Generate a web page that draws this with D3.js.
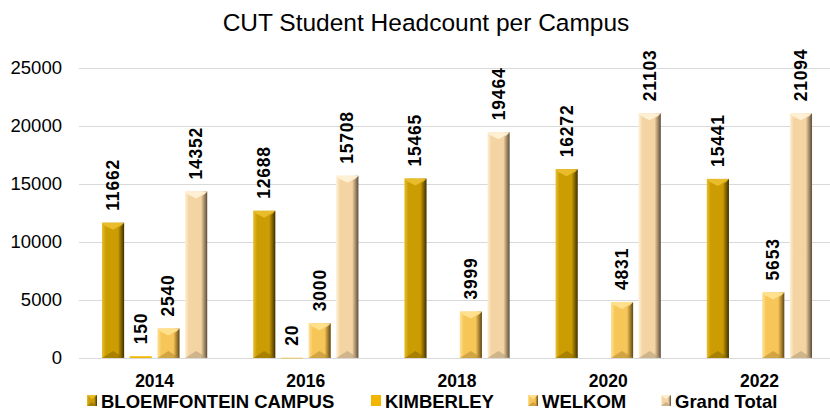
<!DOCTYPE html>
<html><head><meta charset="utf-8">
<script src="https://cdn.jsdelivr.net/npm/d3@7"></script>
<style>body{margin:0;background:#fff}svg{display:block;font-family:"Liberation Sans",Arial,sans-serif}</style>
</head><body><svg id="c" width="830" height="410"></svg>
<script>
const years = ["2014","2016","2018","2020","2022"];
const seriesNames = ["BLOEMFONTEIN CAMPUS","KIMBERLEY","WELKOM","Grand Total"];
const bloemfontein = [11662,12688,15465,16272,15441];
const kimberley = [150,20,null,null,null];
const welkom = [2540,3000,3999,4831,5653];
const grandTotal = [14352,15708,19464,21103,21094];
const yTicks = [0,5000,10000,15000,20000,25000];

const seriesVals = [bloemfontein,kimberley,welkom,grandTotal];
const pal = [
  {light:"#E9BE2E",face:"#CC9D02",dark:"#3e2e00",top:"#E8BC2A",bot:"#8a6a00"},
  {light:"#F2B600",face:"#F2B600",dark:"#F2B600",top:"#F2B600",bot:"#F2B600",flat:true},
  {light:"#FFE39A",face:"#F7C658",dark:"#5e4512",top:"#FFE08C",bot:"#b58a34"},
  {light:"#FFF0D6",face:"#F3D4A2",dark:"#5c4c38",top:"#FFF0D4",bot:"#b09a78"}
];

const svg = d3.select("#c");
const defs = svg.append("defs");
pal.forEach((p,i)=>{
  const g = defs.append("linearGradient").attr("id","g"+i).attr("x1","0").attr("x2","1").attr("y1","0").attr("y2","0");
  [[0,p.light],[0.18,p.face],[0.72,p.face],[0.86,d3.interpolateRgb(p.face,p.dark)(0.5)],[1,p.dark]]
    .forEach(([o,c])=>g.append("stop").attr("offset",o).attr("stop-color",c));
});

const x0 = d3.scaleBand().domain(years).range([79,835]).padding(0);
const bw = x0.bandwidth();
const x1 = d3.scaleBand().domain(d3.range(4)).range([bw*0.152,bw*0.848]).paddingInner(0.2);
const y = d3.scaleLinear().domain([0,25000]).range([358,68]);

// title
svg.append("text").attr("x",426).attr("y",31).attr("text-anchor","middle")
  .attr("font-size",24.5).attr("fill","#000").text("CUT Student Headcount per Campus");

// gridlines
svg.append("g").selectAll("line").data(yTicks).join("line")
  .attr("x1",79).attr("x2",830).attr("y1",d=>y(d)+0.5).attr("y2",d=>y(d)+0.5)
  .attr("stroke","#d9d9d9").attr("stroke-width",1);

// y axis
const ya = svg.append("g").attr("transform","translate(79,0)")
  .call(d3.axisLeft(y).tickValues(yTicks).tickSize(0).tickPadding(17).tickFormat(d3.format("d")));
ya.select(".domain").remove();
ya.selectAll("text").attr("font-size",18.5).attr("fill","#000").attr("font-family","Liberation Sans, Arial, sans-serif");

// x axis labels
const xa = svg.append("g").attr("transform","translate(0,358)")
  .call(d3.axisBottom(x0).tickSize(0).tickPadding(0));
xa.select(".domain").remove();
xa.selectAll("text").attr("dy",null).attr("y",29).attr("font-size",17.5).attr("font-weight","bold").attr("fill","#000")
  .attr("font-family","Liberation Sans, Arial, sans-serif");

// bars
const data = [];
years.forEach((yr,gi)=>seriesVals.forEach((arr,si)=>{ if(arr[gi]!=null) data.push({yr,si,v:arr[gi]}); }));

function bevelBar(g,d){
  const p = pal[d.si];
  const bx = x0(d.yr)+x1(d.si), w = x1.bandwidth();
  const top = y(d.v), h = y(0)-top;
  if (p.flat || h < 6){
    g.append("rect").attr("x",bx).attr("y",top).attr("width",w).attr("height",Math.max(h,0.6)).attr("fill",p.face);
    return;
  }
  g.append("rect").attr("x",bx).attr("y",top).attr("width",w).attr("height",h).attr("fill","url(#g"+d.si+")");
  const dpt = Math.min(7,h/2);
  g.append("path").attr("d",`M${bx},${top}L${bx+w},${top}L${bx+w-3},${top+3}L${bx+w/2},${top+dpt}L${bx+3},${top+3}Z`)
    .attr("fill",p.top);
  g.append("path").attr("d",`M${bx+w},${top}L${bx+w-3},${top+3}L${bx+w/2},${top+dpt}Z`).attr("fill",p.face).attr("opacity",0.7);
  g.append("path").attr("d",`M${bx},${top+h}L${bx+w},${top+h}L${bx+w/2},${top+h-dpt}Z`)
    .attr("fill",p.bot).attr("opacity",0.55);
}
const bars = svg.append("g");
data.forEach(d=>bevelBar(bars,d));

// labels
svg.append("g").selectAll("text").data(data).join("text")
  .attr("transform",d=>`translate(${x0(d.yr)+x1(d.si)+x1.bandwidth()/2+6},${y(d.v)-12}) rotate(-90)`)
  .attr("font-size",17.5).attr("font-weight","bold").attr("letter-spacing",0.8).attr("fill","#000")
  .text(d=>d.v);

// legend
const legX = [87,371,528,661];
const lg = svg.append("g");
seriesNames.forEach((n,i)=>{
  const p = pal[i];
  const mx = legX[i], my = 395;
  lg.append("rect").attr("x",mx).attr("y",my).attr("width",10).attr("height",11).attr("fill","url(#g"+i+")");
  if(!p.flat){
    lg.append("path").attr("d",`M${mx},${my}L${mx+10},${my}L${mx+5},${my+4}Z`).attr("fill",p.top);
    lg.append("path").attr("d",`M${mx},${my+11}L${mx+10},${my+11}L${mx+5},${my+7}Z`).attr("fill",p.bot).attr("opacity",0.6);
  }
  lg.append("text").attr("x",mx+14).attr("y",407.5).attr("font-size",18.5).attr("font-weight","bold")
    .attr("fill","#000").text(n);
});
</script></body></html>
